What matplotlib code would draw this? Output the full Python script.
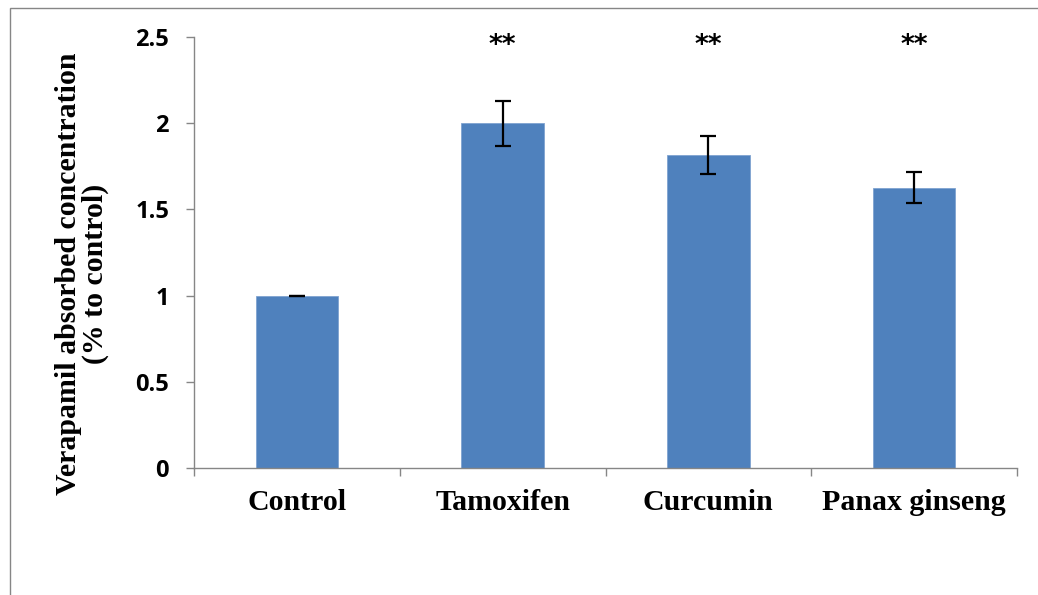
import matplotlib.pyplot as plt
import numpy as np
from matplotlib.patches import Rectangle
from matplotlib.ticker import FixedLocator

# 數據
categories = ['Control', 'Tamoxifen', 'Curcumin', 'Panax ginseng']
values = [1.0, 2.0, 1.815, 1.627]
errors = [0.0, 0.13, 0.11, 0.09]
marks = ['', '**', '**', '**']
star_y = 2.45

fig = plt.figure(figsize=(10.38, 5.95), dpi=100)
ax = fig.add_axes([194/1038, 1-468/595, (1017-194)/1038, (468-37)/595])

x = np.arange(len(categories))
ax.bar(x, values, width=0.4, color='#4F81BD', edgecolor='#7FA3D0', linewidth=0.6, zorder=2)
ax.errorbar(x, values, yerr=errors, fmt='none', ecolor='black', elinewidth=1.6,
            capsize=6, capthick=1.6, zorder=3)

for xi, m in zip(x, marks):
    if m:
        ax.text(xi, star_y, m, ha='center', va='center', fontsize=19,
                fontweight='bold', family='DejaVu Sans')

ax.set_xlim(-0.5, len(categories) - 0.5)
ax.set_ylim(0, 2.5)
ax.set_yticks([0, 0.5, 1, 1.5, 2, 2.5])
ax.set_yticklabels(['0', '0.5', '1', '1.5', '2', '2.5'], fontsize=17,
                   fontweight='bold', family='Open Sans')
ax.set_xticks(x)
ax.set_xticklabels(categories, fontsize=21.5, fontweight='bold', family='Liberation Serif')
ax.xaxis.set_minor_locator(FixedLocator(np.arange(-0.5, len(categories), 1.0)))
ax.tick_params(axis='x', which='major', length=0, pad=15)
ax.tick_params(axis='x', which='minor', length=6, color='#868686', width=1)
ax.tick_params(axis='y', length=6, color='#868686', width=1, pad=12)

for s in ['top', 'right']:
    ax.spines[s].set_visible(False)
for s in ['left', 'bottom']:
    ax.spines[s].set_color('#868686')
    ax.spines[s].set_linewidth(1)

fig.text(82/1038, 1-274/595, 'Verapamil absorbed concentration\n(% to control)',
         rotation=90, ha='center', va='center', fontsize=21.5, fontweight='bold',
         family='Liberation Serif', linespacing=1.0)

# 外框
fig.patches.append(Rectangle((10/1038, -0.1), 1.2, 1 - 8/595 + 0.1,
                             transform=fig.transFigure, fill=False,
                             edgecolor='#868686', linewidth=1))

fig.savefig('out.png', dpi=100)
